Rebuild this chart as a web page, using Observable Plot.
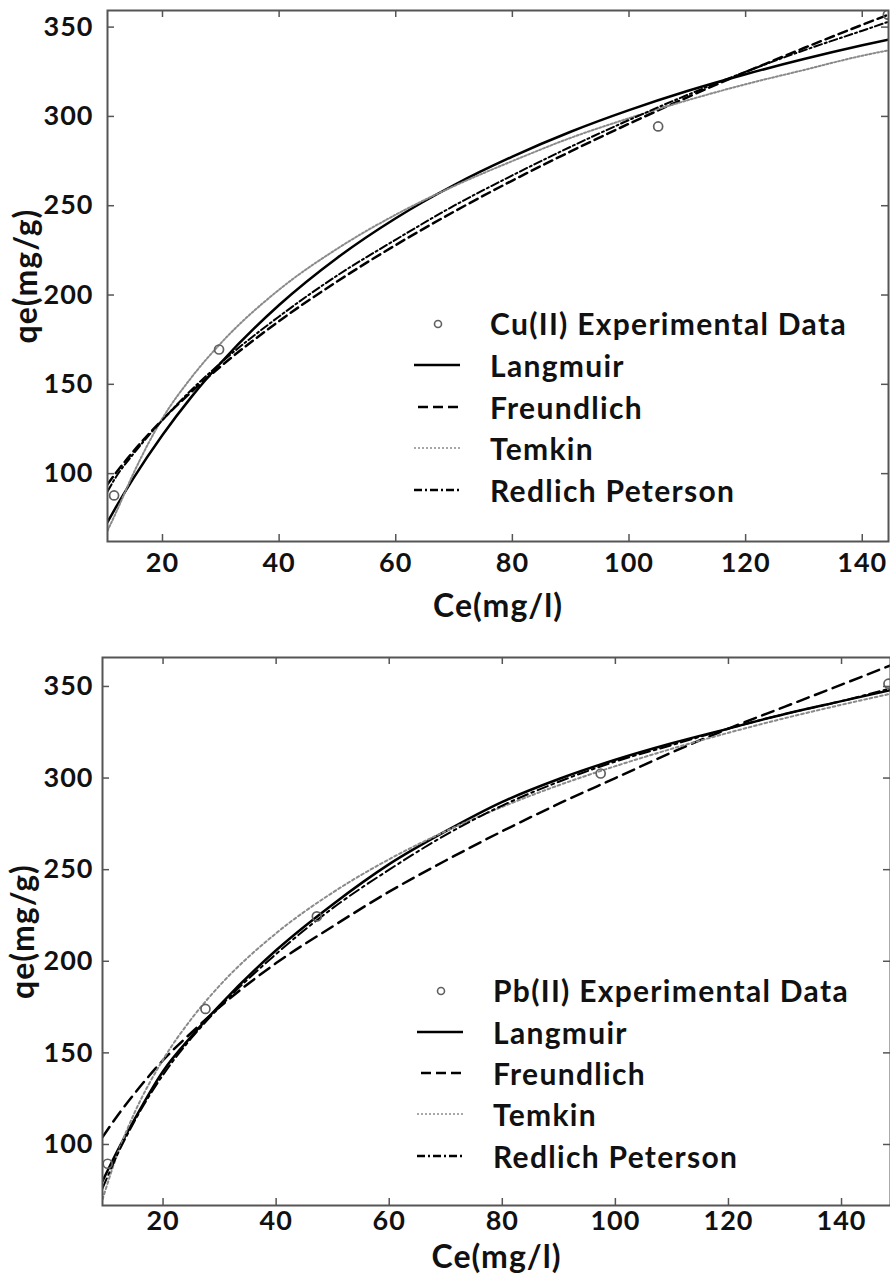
<!DOCTYPE html>
<html><head><meta charset="utf-8">
<script src="https://cdn.jsdelivr.net/npm/d3@7"></script>
<script src="https://cdn.jsdelivr.net/npm/@observablehq/plot@0.6"></script>
<style>
body{margin:0;background:#fff;}
#wrap{position:relative;width:890px;height:1276px;overflow:hidden;font-family:Lato,"Open Sans",sans-serif;}
#wrap svg{display:block;}
.row{position:absolute;display:flex;align-items:center;white-space:nowrap;font-weight:700;font-size:30px;letter-spacing:1.3px;color:#111;height:36px;}
.row svg{flex:none;}
</style></head><body><div id="wrap"></div>
<script>
// ---- shared ticks ----
const xTicks = [20, 40, 60, 80, 100, 120, 140];
const yTicks = [100, 150, 200, 250, 300, 350];
const seriesNames = ["Langmuir", "Freundlich", "Temkin", "Redlich Peterson"];

// ---- Cu(II) panel ----
const cuDataX = [11.7, 29.7, 105, 144.4];
const cuDataY = [87.8, 169.5, 294.4, 357];
const cuFitX = [10.57, 12, 15, 20, 25, 30, 40, 50, 60, 70, 80, 90, 100, 110, 120, 130, 140, 144.5];
const cuLangmuir = [72.9, 81.1, 97.3, 121.6, 143.1, 162.1, 194.4, 220.9, 243.0, 261.6, 277.5, 291.4, 303.5, 314.2, 323.6, 332.1, 339.8, 343.0];
const cuFreundlich = [94, 100.3, 112.4, 130.2, 145.9, 160.1, 185.4, 207.7, 228.0, 246.7, 264.1, 280.4, 295.9, 310.7, 324.8, 338.3, 351.3, 357];
const cuTemkin = [68, 78, 100, 131, 154, 173, 203, 226, 245, 261, 275, 288, 299, 309, 318, 326, 334, 337];
const cuRedlich = [90, 98, 111, 130, 147, 162, 188, 211, 231, 250, 267, 283, 298, 312, 325, 337, 348, 353];

// ---- Pb(II) panel ----
const pbDataX = [10.2, 27.5, 47.2, 97.4, 148.3];
const pbDataY = [89.5, 174, 224.5, 302.5, 351.5];
const pbFitX = [9.29, 12, 15, 20, 25, 30, 40, 50, 60, 70, 80, 90, 100, 110, 120, 130, 140, 148.66];
const pbLangmuir = [80, 97, 114, 140, 159, 176, 206, 231, 253, 271, 287, 299.5, 310, 319, 327, 335, 342, 348];
const pbFreundlich = [104, 116, 128, 146, 161, 175, 199, 219, 238, 255, 271, 286, 300, 314, 327, 339, 351, 361.5];
const pbTemkin = [70, 95.4, 117.6, 146.3, 168.5, 186.7, 215.3, 237.5, 255.7, 271, 284.3, 296.1, 306.5, 316, 324.7, 332.7, 340, 346];
const pbRedlich = [76, 95, 113, 138, 158, 175, 204, 229, 250, 269, 285, 298, 309, 318, 327, 335, 342, 349];

const styles = {
  "Langmuir": {stroke: "#000", strokeWidth: 2.5, dash: null},
  "Freundlich": {stroke: "#000", strokeWidth: 2.5, dash: "9,5"},
  "Temkin": {stroke: "#8a8a8a", strokeWidth: 2, dash: "2,2"},
  "Redlich Peterson": {stroke: "#000", strokeWidth: 2, dash: "8,3,2,3"}
};

const FONT = "Lato, 'Open Sans', sans-serif";

function panel(o) {
  const fw = o.width - o.ml - o.mr, fh = o.height - o.mt - o.mb;
  const marks = [];
  o.fits.forEach((ys, k) => {
    const st = styles[seriesNames[k]];
    const pts = o.fitX.map((x, i) => ({x, y: ys[i]}));
    marks.push(Plot.line(pts, {x: "x", y: "y", stroke: st.stroke, strokeWidth: st.strokeWidth,
      strokeDasharray: st.dash ? st.dash.split(",").map(v => v * o.dashScale).join(",") : null,
      curve: "monotone-x", clip: true}));
  });
  const dots = o.dataX.map((x, i) => ({x, y: o.dataY[i]}));
  marks.push(Plot.dot(dots, {x: "x", y: "y", r: 4.5, stroke: "#606060", strokeWidth: 1.7, fill: "none", clip: true}));
  // inward ticks on all four sides
  const tk = {stroke: "#555", strokeWidth: 1.5};
  marks.push(Plot.tickX(xTicks, {x: d => d, insetTop: fh - 7, ...tk}));
  marks.push(Plot.tickX(xTicks, {x: d => d, insetBottom: fh - 7, ...tk}));
  marks.push(Plot.tickY(yTicks, {y: d => d, insetRight: fw - 7, ...tk}));
  marks.push(Plot.tickY(yTicks, {y: d => d, insetLeft: fw - 7, ...tk}));
  marks.push(Plot.frame({stroke: "#555", strokeWidth: 2}));
  marks.push(Plot.axisX({ticks: xTicks, anchor: "bottom", tickSize: 0, tickPadding: o.xpad, fontSize: 27, fontWeight: "bold", label: null}));
  marks.push(Plot.axisY({ticks: yTicks, anchor: "left", tickSize: 0, tickPadding: o.ypad, fontSize: 27, fontWeight: "bold", label: null}));
  marks.push(Plot.text(["Ce(mg/l)"], {frameAnchor: "bottom", dy: o.xlab, lineAnchor: "middle", textAnchor: "middle", fontSize: 32, fontWeight: "bold", fill: "#111"}));
  marks.push(Plot.text(["qe(mg/g)"], {frameAnchor: "left", dx: o.ylab, rotate: -90, lineAnchor: "middle", textAnchor: "middle", fontSize: 32, fontWeight: "bold", fill: "#111"}));
  return Plot.plot({
    width: o.width, height: o.height,
    marginLeft: o.ml, marginRight: o.mr, marginTop: o.mt, marginBottom: o.mb,
    x: {domain: o.xd}, y: {domain: o.yd},
    style: {fontFamily: FONT, color: "#111", background: "white", overflow: "visible", letterSpacing: "1px"},
    marks
  });
}

const wrap = document.getElementById("wrap");
wrap.appendChild(panel({
  width: 890, height: 648, ml: 107, mr: 2, mt: 10, mb: 107,
  xd: [10.57, 144.5], yd: [62, 359.3],
  fitX: cuFitX, fits: [cuLangmuir, cuFreundlich, cuTemkin, cuRedlich],
  dataX: cuDataX, dataY: cuDataY, xpad: 11, ypad: 14, xlab: 65, ylab: -81, dashScale: 1
}));
wrap.appendChild(panel({
  width: 890, height: 628, ml: 102, mr: 0, mt: 9, mb: 71,
  xd: [9.29, 148.66], yd: [66.7, 365.8],
  fitX: pbFitX, fits: [pbLangmuir, pbFreundlich, pbTemkin, pbRedlich],
  dataX: pbDataX, dataY: pbDataY, xpad: 5, ypad: 9, xlab: 52, ylab: -79, dashScale: 1.35
}));

// ---- legends (HTML overlay) ----
function swatch(kind) {
  const ns = "http://www.w3.org/2000/svg";
  const s = document.createElementNS(ns, "svg");
  s.setAttribute("width", 77); s.setAttribute("height", 20);
  if (kind === "data") {
    const c = document.createElementNS(ns, "circle");
    c.setAttribute("cx", 25); c.setAttribute("cy", 11); c.setAttribute("r", 3.5);
    c.setAttribute("fill", "none"); c.setAttribute("stroke", "#606060"); c.setAttribute("stroke-width", 1.6);
    s.appendChild(c);
  } else {
    const st = styles[kind];
    const l = document.createElementNS(ns, "line");
    l.setAttribute("x1", kind === "Freundlich" ? 5 : 1); l.setAttribute("x2", 47);
    l.setAttribute("y1", 10); l.setAttribute("y2", 10);
    l.setAttribute("stroke", st.stroke); l.setAttribute("stroke-width", kind === "Temkin" ? 1.6 : 2.5);
    if (st.dash) l.setAttribute("stroke-dasharray", kind === "Freundlich" ? "10,5" : st.dash);
    s.appendChild(l);
  }
  return s;
}
function legend(left, rows, first) {
  const items = [{kind: "data", text: first}].concat(seriesNames.map(n => ({kind: n, text: n})));
  items.forEach((it, i) => {
    const r = document.createElement("div");
    r.className = "row";
    r.style.left = left + "px";
    r.style.top = (rows[i] - 18) + "px";
    r.appendChild(swatch(it.kind));
    const t = document.createElement("span");
    t.textContent = it.text;
    r.appendChild(t);
    wrap.appendChild(r);
  });
}
legend(413, [323, 365, 407, 448, 490], "Cu(II) Experimental Data");
legend(416, [990, 1032, 1073, 1114, 1156], "Pb(II) Experimental Data");
</script></body></html>
